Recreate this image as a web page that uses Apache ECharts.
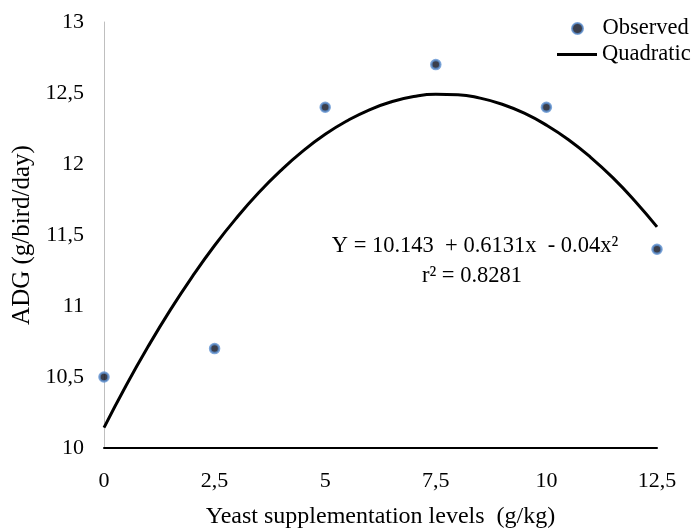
<!DOCTYPE html>
<html>
<head>
<meta charset="utf-8">
<script src="https://cdn.jsdelivr.net/npm/echarts@6/dist/echarts.min.js"></script>
<style>
  html, body { margin: 0; padding: 0; background: #fff; }
  #chart { width: 695px; height: 530px; }
</style>
</head>
<body>
<div id="chart"></div>
<script>
  // observed points
  var levels = [0, 2.5, 5, 7.5, 10, 12.5]
  var observed = [10.5, 10.7, 12.4, 12.7, 12.4, 11.4]

  // quadratic curve
  var curveX = [0, 0.5, 1, 1.5, 2, 2.5, 3, 3.5, 4, 4.5, 5, 5.5, 6, 6.5, 7, 7.5, 8, 8.5, 9, 9.5, 10, 10.5, 11, 11.5, 12, 12.5]
  var curveY = [10.143, 10.44, 10.716, 10.973, 11.209, 11.426, 11.622, 11.799, 11.955, 12.092, 12.209, 12.305, 12.382, 12.438,
    12.475, 12.491, 12.488, 12.464, 12.421, 12.358, 12.274, 12.171, 12.047, 11.904, 11.74, 11.557]

  var xTicks = [0, 2.5, 5, 7.5, 10, 12.5]
  var yTicks = [10, 10.5, 11, 11.5, 12, 12.5, 13]

  var font = 'Liberation Serif'
  var myChart = echarts.init(document.getElementById('chart'))

  var obsData = []
  for (var i = 0; i < levels.length; i++) {
    obsData.push([levels[i], observed[i]])
  }
  var curveData = []
  for (var j = 0; j < curveX.length; j++) {
    curveData.push([curveX[j], curveY[j]])
  }

  function comma (v) {
    return String(v).replace('.', ',')
  }

  var option = {
    animation: false,
    textStyle: { fontFamily: font },
    grid: { left: 104, right: 38, top: 22, bottom: 82, containLabel: false, outerBoundsMode: 'none' },
    legend: [
      {
        data: ['Observed'],
        left: 566,
        top: 12,
        itemWidth: 40,
        itemHeight: 11,
        icon: 'circle',
        textStyle: { fontFamily: font, fontSize: 22.5, color: '#000' }
      },
      {
        data: ['Quadratic'],
        left: 552,
        top: 38,
        itemWidth: 40,
        itemHeight: 3,
        icon: 'rect',
        textStyle: { fontFamily: font, fontSize: 22.5, color: '#000' }
      }
    ],
    xAxis: {
      type: 'value',
      min: xTicks[0],
      max: xTicks[xTicks.length - 1],
      interval: 2.5,
      name: 'Yeast supplementation levels  (g/kg)',
      nameLocation: 'middle',
      nameGap: 57,
      nameTextStyle: { fontFamily: font, fontSize: 24, color: '#000' },
      axisLine: { lineStyle: { color: '#000', width: 2 } },
      axisTick: { show: false },
      splitLine: { show: false },
      axisLabel: { fontFamily: font, fontSize: 22, color: '#000', margin: 22, formatter: comma }
    },
    yAxis: {
      type: 'value',
      min: yTicks[0],
      max: yTicks[yTicks.length - 1],
      interval: 0.5,
      name: 'ADG (g/bird/day)',
      nameLocation: 'middle',
      nameGap: 67,
      nameTextStyle: { fontFamily: font, fontSize: 25, color: '#000' },
      axisLine: { show: true, lineStyle: { color: '#bfbfbf', width: 1 } },
      axisTick: { show: false },
      splitLine: { show: false },
      axisLabel: { fontFamily: font, fontSize: 22, color: '#000', margin: 20, formatter: comma }
    },
    graphic: [
      {
        type: 'text',
        x: 475,
        y: 246,
        style: {
          text: 'Y = 10.143  + 0.6131x  - 0.04x\u00b2',
          font: '22.5px "Liberation Serif"',
          fill: '#000',
          align: 'center',
          verticalAlign: 'middle'
        }
      },
      {
        type: 'text',
        x: 472,
        y: 276,
        style: {
          text: 'r\u00b2 = 0.8281',
          font: '22.5px "Liberation Serif"',
          fill: '#000',
          align: 'center',
          verticalAlign: 'middle'
        }
      }
    ],
    series: [
      {
        name: 'Quadratic',
        type: 'line',
        smooth: true,
        showSymbol: false,
        data: curveData,
        lineStyle: { color: '#000', width: 3 },
        itemStyle: { color: '#000' },
        z: 2
      },
      {
        name: 'Observed',
        type: 'scatter',
        data: obsData,
        symbolSize: 9,
        itemStyle: { color: '#0a0f1f', borderColor: '#5b8fd0', borderWidth: 2.5 },
        z: 3
      }
    ]
  }
  myChart.setOption(option)
</script>
</body>
</html>
